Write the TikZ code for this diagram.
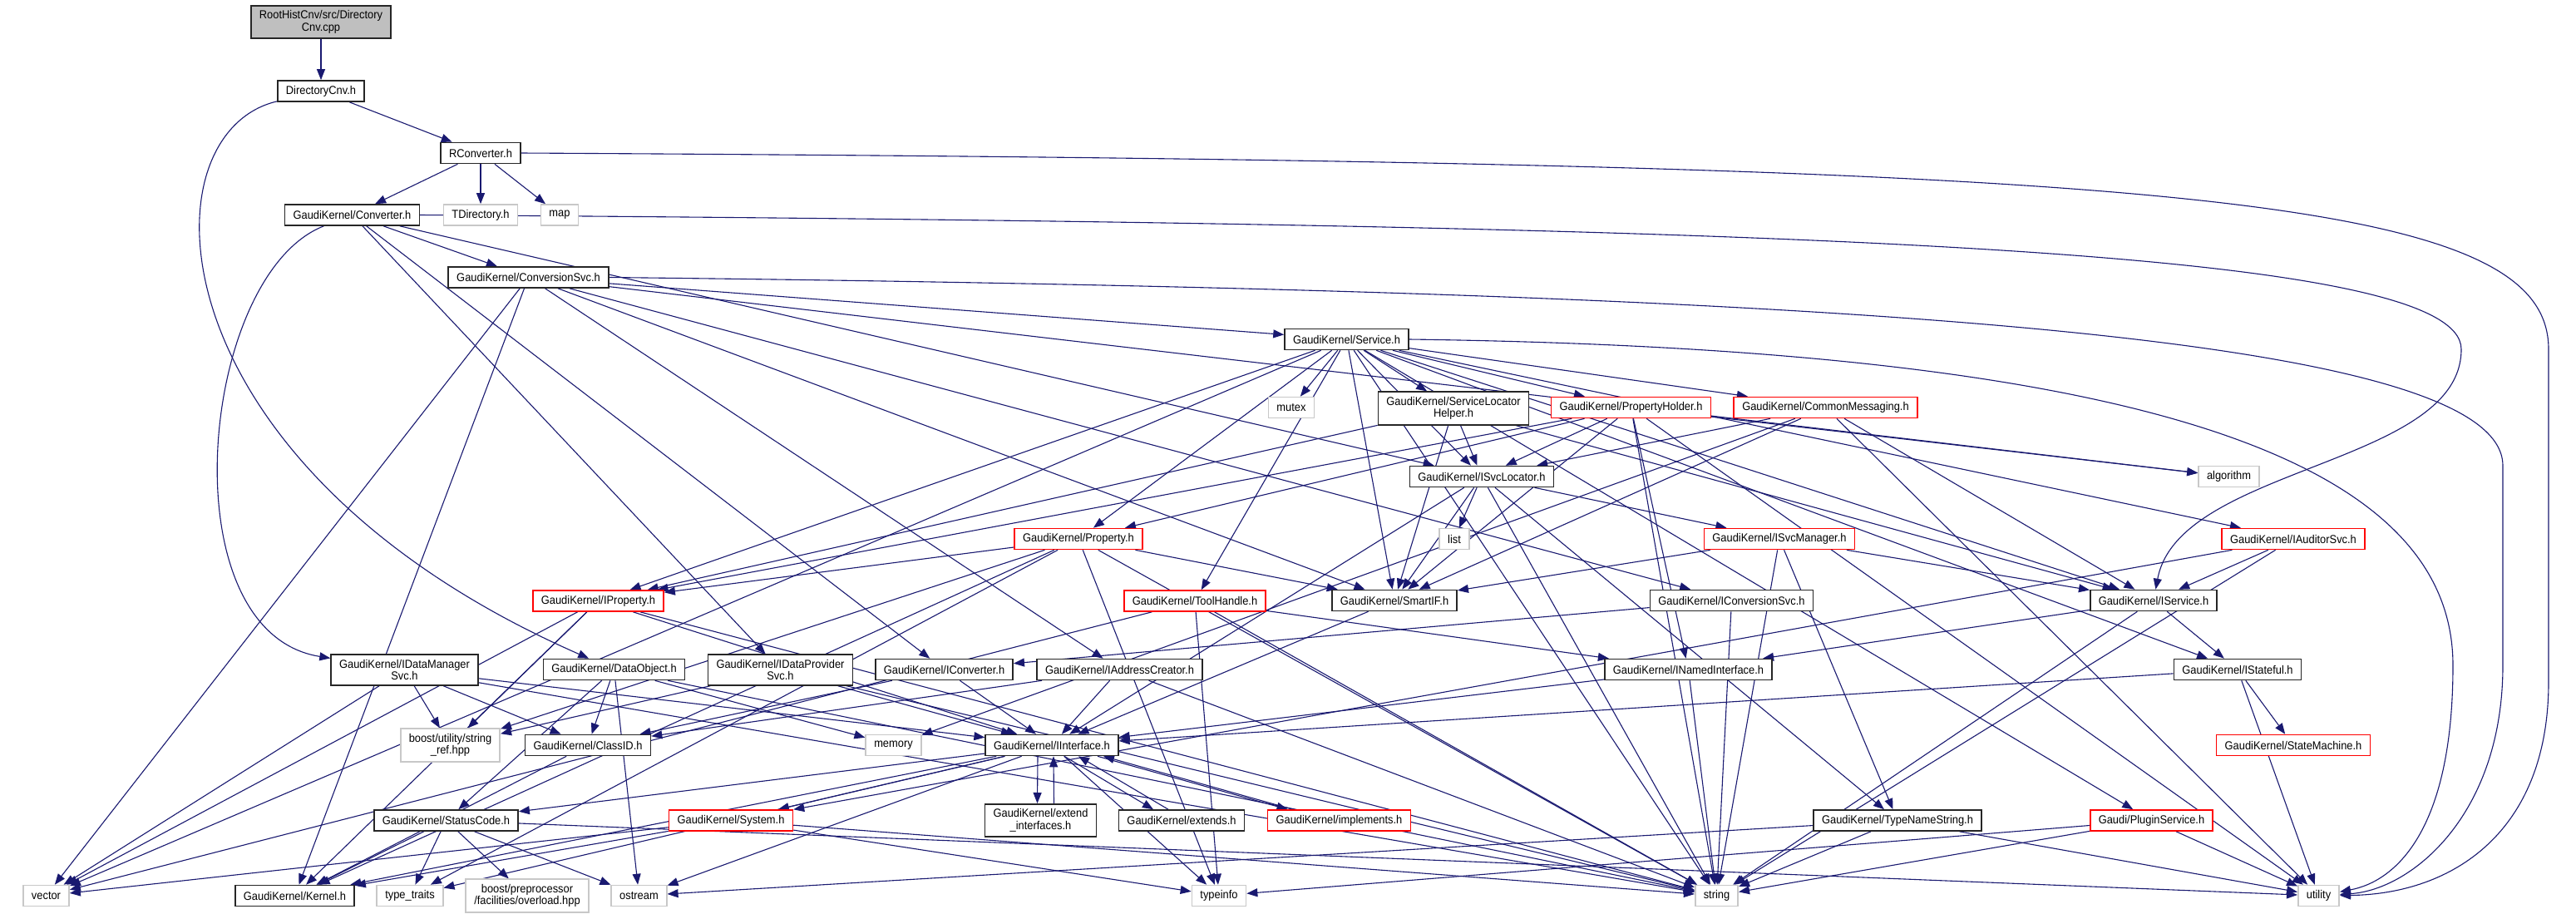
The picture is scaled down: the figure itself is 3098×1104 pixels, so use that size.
\documentclass[tikz,border=0pt]{standalone}
\usepackage{fontspec}
\setmainfont[FakeStretch=0.92]{Liberation Sans}
\usetikzlibrary{arrows.meta,backgrounds}
\definecolor{edgeblue}{HTML}{191970}
\definecolor{filegray}{HTML}{BFBFBF}
\definecolor{sysgray}{HTML}{C8C8C8}
\definecolor{truncred}{HTML}{FF0000}

\begin{document}
\begin{tikzpicture}[
    x=1pt, y=-1pt,
    box/.style={
        draw=black!85,
        line width=1.6pt,
        fill=white,
        align=center,
        inner xsep=10pt,
        inner ysep=6pt,
        minimum height=25pt,
        font=\fontsize{14}{14.5}\selectfont
    },
    rootfile/.style={box, fill=filegray},
    trunc/.style={box, draw=truncred},
    sysinc/.style={box, draw=sysgray},
    arrow/.style={-{Triangle[length=13pt,width=10pt]}, line width=1.1pt, draw=edgeblue}
]
\useasboundingbox (0,0) rectangle (3098,1104);

% ===== Row 1 =====
\node[rootfile] (root)   at (386,26.5)  {RootHistCnv/src/Directory\\Cnv.cpp};
\node[box]      (dircnv) at (386,109.5) {DirectoryCnv.h};
\node[box]      (rconv)  at (578,184)   {RConverter.h};

% ===== Row 2 =====
\node[box]    (conv)    at (423.5,258.5) {GaudiKernel/Converter.h};
\node[sysinc] (tdir)    at (578,258.5)   {TDirectory.h};
\node[sysinc] (map)     at (673,258.5)   {map};
\node[box]    (convsvc) at (635.5,333.5) {GaudiKernel/ConversionSvc.h};
\node[box]    (svc)     at (1619.5,408)  {GaudiKernel/Service.h};

% ===== Row 3 =====
\node[sysinc] (mutex) at (1553,490)   {mutex};
\node[box]    (slh)   at (1748,491)   {GaudiKernel/ServiceLocator\\Helper.h};
\node[trunc]  (ph)    at (1961.5,490) {GaudiKernel/PropertyHolder.h};
\node[trunc]  (cm)    at (2195.5,490) {GaudiKernel/CommonMessaging.h};
\node[box]    (isl)   at (1782,573)   {GaudiKernel/ISvcLocator.h};
\node[sysinc] (algorithm) at (2680.5,573) {algorithm};

% ===== Row 4 =====
\node[trunc]  (property) at (1297,648) {GaudiKernel/Property.h};
\node[sysinc] (list)     at (1749,648) {list};
\node[trunc]  (ismgr)    at (2140,648) {GaudiKernel/ISvcManager.h};
\node[trunc]  (iaud)     at (2758,648) {GaudiKernel/IAuditorSvc.h};

% ===== Row 5 =====
\node[trunc] (iprop)    at (719.5,722.5) {GaudiKernel/IProperty.h};
\node[trunc] (toolh)    at (1437,722.5)  {GaudiKernel/ToolHandle.h};
\node[box]   (smartif)  at (1677,722)    {GaudiKernel/SmartIF.h};
\node[box]   (iconvsvc) at (2082.5,722)  {GaudiKernel/IConversionSvc.h};
\node[box]   (isvc)     at (2590,722)    {GaudiKernel/IService.h};

% ===== Row 6 =====
\node[box] (idms)    at (486.5,805.5)  {GaudiKernel/IDataManager\\Svc.h};
\node[box] (dataobj) at (738.5,805)    {GaudiKernel/DataObject.h};
\node[box] (idps)    at (938.5,805.5)  {GaudiKernel/IDataProvider\\Svc.h};
\node[box] (icnv)    at (1135.5,805)   {GaudiKernel/IConverter.h};
\node[box] (iac)     at (1346.5,805)   {GaudiKernel/IAddressCreator.h};
\node[box] (inamed)  at (2030.5,805)   {GaudiKernel/INamedInterface.h};
\node[box] (istate)  at (2691,805)     {GaudiKernel/IStateful.h};

% ===== Row 7 =====
\node[sysinc] (stringref) at (541.5,896) {boost/utility/string\\\_ref.hpp};
\node[box]    (classid)   at (707,896)   {GaudiKernel/ClassID.h};
\node[sysinc] (memory)    at (1074.5,896) {memory};
\node[box]    (iint)      at (1265,896)  {GaudiKernel/IInterface.h};
\node[trunc]  (statem)    at (2758,896)  {GaudiKernel/StateMachine.h};

% ===== Row 8 =====
\node[box]   (statusc) at (536.5,986.5)  {GaudiKernel/StatusCode.h};
\node[trunc] (system)  at (879,986.5)    {GaudiKernel/System.h};
\node[box]   (extint)  at (1251.5,986.5) {GaudiKernel/extend\\\_interfaces.h};
\node[box]   (extends) at (1421,986.5)   {GaudiKernel/extends.h};
\node[trunc] (impl)    at (1610.5,986.5) {GaudiKernel/implements.h};
\node[box]   (tns)     at (2282,986.5)   {GaudiKernel/TypeNameString.h};
\node[trunc] (plugin)  at (2587.5,986.5) {Gaudi/PluginService.h};

% ===== Row 9 =====
\node[sysinc] (vector)     at (55.5,1077)  {vector};
\node[box]    (kernel)     at (354.5,1077) {GaudiKernel/Kernel.h};
\node[sysinc] (typetraits) at (493,1077)   {type\_traits};
\node[sysinc] (overload)   at (634,1077)   {boost/preprocessor\\/facilities/overload.hpp};
\node[sysinc] (ostream)    at (768.5,1077) {ostream};
\node[sysinc] (typeinfo)   at (1466,1077)  {typeinfo};
\node[sysinc] (string)     at (2064.5,1077) {string};
\node[sysinc] (utility)    at (2788.5,1077) {utility};

\begin{pgfonlayer}{background}
% ===== Row 1 Arrows =====
\draw[arrow] (root) -- (dircnv);
\draw[arrow] (dircnv) -- (rconv);
\draw[arrow] (dircnv) .. controls (170,160) and (180,560) .. (dataobj);
\draw[arrow] (rconv) -- (conv);
\draw[arrow] (rconv) -- (tdir);
\draw[arrow] (rconv) -- (map);
\draw[arrow] (rconv.east) .. controls (2600,195) and (3065,230) .. (3065,420) -- (3065,820) .. controls (3065,1000) and (2950,1075) .. (utility);

% ===== Row 2 Arrows =====
\draw[arrow] (conv) -- (convsvc);
\draw[arrow] (conv) .. controls (240,330) and (200,760) .. (idms);
\draw[arrow] (conv) -- (idps);
\draw[arrow] (conv) -- (icnv);
\draw[arrow] (conv) -- (isl);
\draw[arrow] (conv.east) .. controls (2200,270) and (2960,300) .. (2960,420) .. controls (2960,560) and (2620,560) .. (isvc);
\draw[arrow] (convsvc) -- (svc);
\draw[arrow] (convsvc) -- (iconvsvc);
\draw[arrow] (convsvc) -- (iac);
\draw[arrow] (convsvc) -- (smartif);
\draw[arrow] (convsvc) -- (vector);
\draw[arrow] (convsvc) -- (kernel);
\draw[arrow] (convsvc) -- (algorithm);
\draw[arrow] (convsvc.east) .. controls (2200,350) and (3010,400) .. (3010,560) -- (3010,800) .. controls (3010,980) and (2900,1070) .. (utility);
\draw[arrow] (svc) -- (mutex);
\draw[arrow] (svc) -- (slh);
\draw[arrow] (svc) -- (ph);
\draw[arrow] (svc) -- (cm);
\draw[arrow] (svc) -- (isl);
\draw[arrow] (svc) -- (property);
\draw[arrow] (svc) -- (iprop);
\draw[arrow] (svc) -- (toolh);
\draw[arrow] (svc) -- (smartif);
\draw[arrow] (svc) -- (iaud);
\draw[arrow] (svc) -- (isvc);
\draw[arrow] (svc) -- (istate);
\draw[arrow] (svc) -- (plugin);
\draw[arrow] (svc) -- (vector);
\draw[arrow] (svc) -- (string);
\draw[arrow] (svc.east) .. controls (2600,420) and (2950,560) .. (2950,800) .. controls (2950,1000) and (2880,1060) .. (utility);

% ===== Row 3 Arrows =====
\draw[arrow] (slh) -- (isl);
\draw[arrow] (slh) -- (smartif);
\draw[arrow] (slh) -- (iprop);
\draw[arrow] (slh) -- (isvc);
\draw[arrow] (ph) -- (property);
\draw[arrow] (ph) -- (iprop);
\draw[arrow] (ph) -- (isl);
\draw[arrow] (ph) -- (smartif);
\draw[arrow] (ph) -- (inamed);
\draw[arrow] (ph) -- (algorithm);
\draw[arrow] (ph) -- (string);
\draw[arrow] (ph) -- (utility);
\draw[arrow] (cm) -- (isl);
\draw[arrow] (cm) -- (isvc);
\draw[arrow] (cm) -- (smartif);
\draw[arrow] (cm) -- (memory);
\draw[arrow] (cm) -- (utility);
\draw[arrow] (isl) -- (list);
\draw[arrow] (isl) -- (ismgr);
\draw[arrow] (isl) -- (smartif);
\draw[arrow] (isl) -- (iint);
\draw[arrow] (isl) -- (string);
\draw[arrow] (isl) -- (tns);

% ===== Row 4 Arrows =====
\draw[arrow] (property) -- (iprop);
\draw[arrow] (property) -- (smartif);
\draw[arrow] (property) -- (kernel);
\draw[arrow] (property) -- (stringref);
\draw[arrow] (property) -- (string);
\draw[arrow] (property) -- (typeinfo);
\draw[arrow] (property) -- (typetraits);
\draw[arrow] (ismgr) -- (smartif);
\draw[arrow] (ismgr) -- (isvc);
\draw[arrow] (ismgr) -- (string);
\draw[arrow] (ismgr) -- (tns);
\draw[arrow] (iaud) -- (isvc);
\draw[arrow] (iaud) -- (system);
\draw[arrow] (iaud) -- (string);

% ===== Row 5 Arrows =====
\draw[arrow] (iprop) -- (kernel);
\draw[arrow] (iprop) -- (iint);
\draw[arrow] (iprop) -- (vector);
\draw[arrow] (iprop) -- (string);
\draw[arrow] (iprop) -- (stringref);
\draw[arrow] (toolh) -- (inamed);
\draw[arrow] (toolh) -- (vector);
\draw[arrow] (toolh) -- (typeinfo);
\draw[arrow] (toolh) -- (string);
\draw[arrow] (smartif) -- (iint);
\draw[arrow] (iconvsvc) -- (icnv);
\draw[arrow] (iconvsvc) -- (string);
\draw[arrow] (isvc) -- (inamed);
\draw[arrow] (isvc) -- (istate);
\draw[arrow] (isvc) -- (string);

% ===== Row 6 Arrows =====
\draw[arrow] (idms) -- (vector);
\draw[arrow] (idms) -- (stringref);
\draw[arrow] (idms) -- (classid);
\draw[arrow] (idms) -- (iint);
\draw[arrow] (idms) -- (string);
\draw[arrow] (dataobj) -- (classid);
\draw[arrow] (dataobj) -- (statusc);
\draw[arrow] (dataobj) -- (memory);
\draw[arrow] (dataobj) -- (string);
\draw[arrow] (dataobj) -- (ostream);
\draw[arrow] (idps) -- (iint);
\draw[arrow] (idps) -- (stringref);
\draw[arrow] (idps) -- (string);
\draw[arrow] (icnv) -- (classid);
\draw[arrow] (icnv) -- (iint);
\draw[arrow] (iac) -- (classid);
\draw[arrow] (iac) -- (iint);
\draw[arrow] (iac) -- (string);
\draw[arrow] (inamed) -- (iint);
\draw[arrow] (inamed) -- (string);
\draw[arrow] (istate) -- (iint);
\draw[arrow] (istate) -- (statem);
\draw[arrow] (istate) -- (utility);

% ===== Row 7 Arrows =====
\draw[arrow] (classid) -- (kernel);
\draw[arrow] ([xshift=-17pt]iint.south) -- ([xshift=-4pt]extint.north);
\draw[arrow] ([xshift=16pt]extint.north) -- ([xshift=2pt]iint.south);
\draw[arrow] ([xshift=15pt]iint.south) -- ([xshift=-34pt]extends.north);
\draw[arrow] ([xshift=-16pt]extends.north) -- ([xshift=32pt]iint.south);
\draw[arrow] ([xshift=55pt]iint.south) -- ([xshift=-62pt]impl.north);
\draw[arrow] ([xshift=-56pt]impl.north) -- ([xshift=62pt]iint.south);
\draw[arrow] (iint) -- (system);
\draw[arrow] (iint) -- (kernel);
\draw[arrow] (iint) -- (statusc);
\draw[arrow] (iint) -- (ostream);
\draw[arrow] (iint) -- (typeinfo);
\draw[arrow] (iint) -- (typetraits);

% ===== Row 8 Arrows =====
\draw[arrow] (statusc) -- (kernel);
\draw[arrow] (statusc) -- (typetraits);
\draw[arrow] (statusc) -- (overload);
\draw[arrow] (statusc) -- (ostream);
\draw[arrow] (statusc) -- (utility);
\draw[arrow] (system) -- (kernel);
\draw[arrow] (system) -- (vector);
\draw[arrow] (system) -- (string);
\draw[arrow] (system) -- (typeinfo);
\draw[arrow] (tns) -- (ostream);
\draw[arrow] (tns) -- (string);
\draw[arrow] (tns) -- (utility);
\draw[arrow] (plugin) -- (string);
\draw[arrow] (plugin) -- (typeinfo);
\draw[arrow] (plugin) -- (utility);
\end{pgfonlayer}

\end{tikzpicture}
\end{document}
